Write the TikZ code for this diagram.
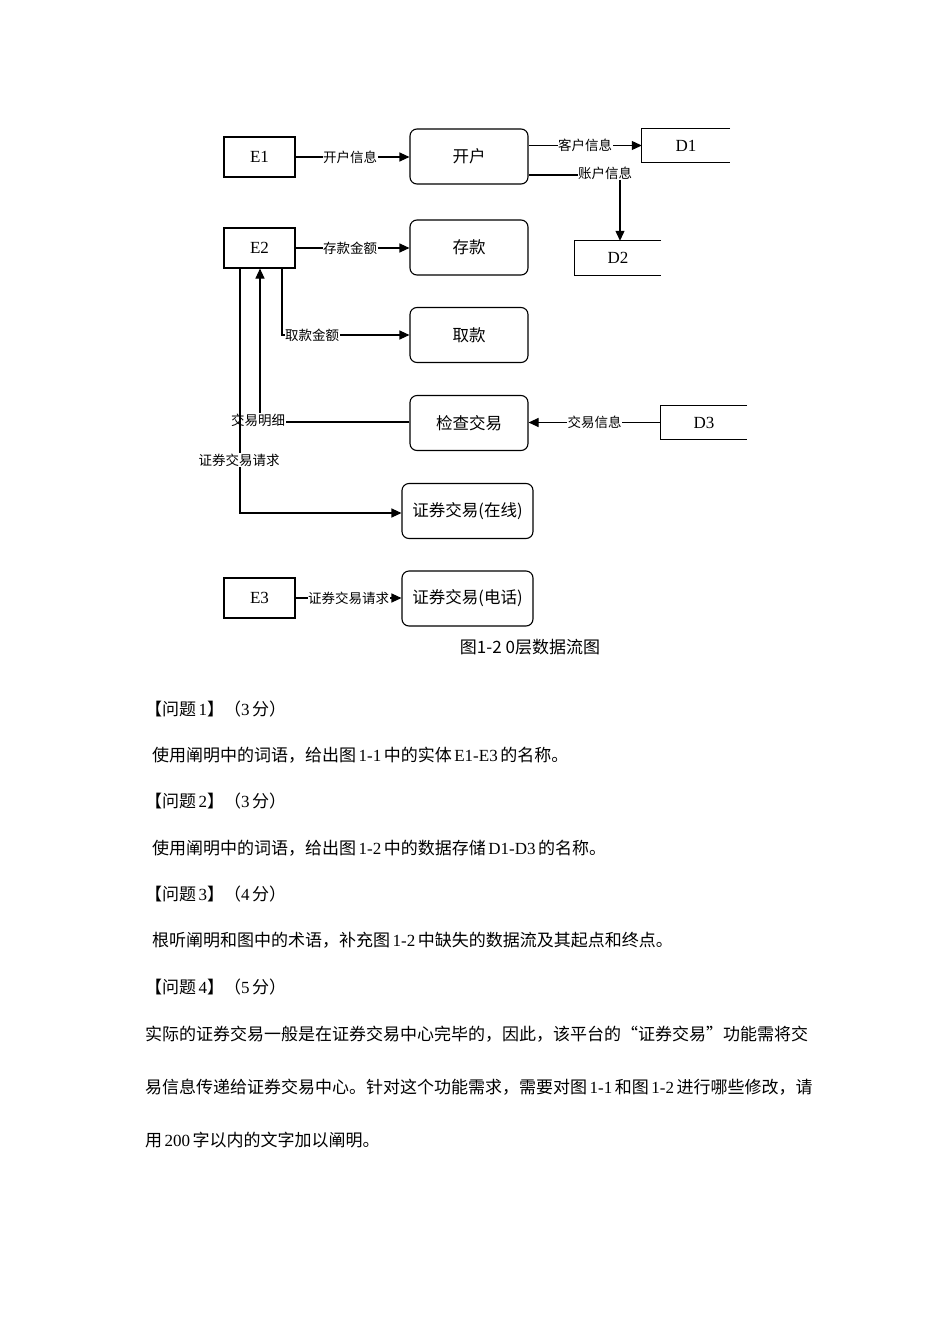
\documentclass[tikz,border=0pt]{standalone}
\usepackage{fontspec}
\setmainfont{Liberation Serif}
\newfontfamily\cjk{Noto Sans CJK SC}
\usetikzlibrary{arrows.meta}
\newcommand\tsp{\hspace{2.5pt}}
\begin{document}
\begin{tikzpicture}[x=1pt,y=-1pt,
  ent/.style={draw,line width=1.1pt,minimum width=71pt,minimum height=40pt,inner sep=0pt,font=\fontsize{17}{18}\selectfont},
  proc/.style={draw,line width=1.1pt,rounded corners=7pt,minimum width=118pt,minimum height=55pt,inner sep=0pt,font=\cjk\fontsize{16.5}{18}\selectfont},
  store/.style={minimum width=88pt,minimum height=33pt,inner sep=0pt,font=\fontsize{17}{18}\selectfont},
  flow/.style={line width=1.1pt,-{Triangle[length=10pt,width=9pt]}},
  plain/.style={line width=1.1pt},
  lab/.style={fill=white,inner sep=0.5pt,font=\cjk\fontsize{13.5}{15}\selectfont},
  body/.style={anchor=west,inner sep=0pt,font=\fontsize{17}{19}\selectfont}]
\useasboundingbox (0,0) rectangle (950,1344);
% entities
\node[ent] (E1) at (259.5,157) {E1};
\node[ent] (E2) at (259.5,248) {E2};
\node[ent] (E3) at (259.5,598) {E3};
% processes
\node[proc] (P1) at (469,156.5) {开户};
\node[proc] (P2) at (469,247.5) {存款};
\node[proc] (P3) at (469,335) {取款};
\node[proc] (P4) at (469,423) {检查交易};
\node[proc,minimum width=131pt] (P5) at (467.5,511) {证券交易(在线)};
\node[proc,minimum width=131pt] (P6) at (467.5,598.5) {证券交易(电话)};
% stores
\node[store] (D1) at (686,145.5) {D1};
\draw[plain] (D1.north east) -- (D1.north west) -- (D1.south west) -- (D1.south east);
\node[store,minimum width=86pt,minimum height=34pt] (D2) at (618,258) {D2};
\draw[plain] (D2.north east) -- (D2.north west) -- (D2.south west) -- (D2.south east);
\node[store,minimum width=86pt] (D3) at (704,422.5) {D3};
\draw[plain] (D3.north east) -- (D3.north west) -- (D3.south west) -- (D3.south east);
% flows
\draw[flow] (E1.east) -- node[lab,pos=0.48]{开户信息} (P1.west |- E1.east);
\draw[flow] (P1.east |- D1.west) -- node[lab,pos=0.5]{客户信息} (D1.west);
\coordinate (c1) at (620,175);
\draw[flow] (P1.east |- c1) -- (c1) -- (c1 |- D2.north);
\node[lab] at (605,173) {账户信息};
\draw[flow] (E2.east) -- node[lab,pos=0.48]{存款金额} (P2.west |- E2.east);
\coordinate (c2) at (282,335);
\draw[flow] (E2.south -| c2) -- (c2) -- (P3.west);
\node[lab] at (312,335) {取款金额};
\coordinate (c3) at (260,422);
\draw[flow] (P4.west |- c3) -- (c3) -- (c3 |- E2.south);
\node[lab] at (258,420) {交易明细};
\draw[flow] (D3.west) -- node[lab,pos=0.5]{交易信息} (P4.east |- D3.west);
\coordinate (c4) at (240,513);
\draw[flow] (E2.south -| c4) -- (c4) -- (P5.west |- c4);
\node[lab] at (239,460) {证券交易请求};
\draw[flow] (E3.east) -- node[lab,pos=0.5]{证券交易请求} (P6.west |- E3.east);
\node[inner sep=0pt,font=\cjk\fontsize{17}{18}\selectfont] (cap) at (530,647) {图1-2 0层数据流图};
% body text
\node[body] (q1) at (145,709) {{\cjk 【问题}\tsp1{\cjk 】（}3\tsp{\cjk 分）}};
\node[body] (t1) at (152,755) {{\cjk 使用阐明中的词语，给出图}\tsp1-1\tsp{\cjk 中的实体}\tsp E1-E3\tsp{\cjk 的名称。}};
\node[body] (q2) at (145,801) {{\cjk 【问题}\tsp2{\cjk 】（}3\tsp{\cjk 分）}};
\node[body] (t2) at (152,848) {{\cjk 使用阐明中的词语，给出图}\tsp1-2\tsp{\cjk 中的数据存储}\tsp D1-D3\tsp{\cjk 的名称。}};
\node[body] (q3) at (145,894) {{\cjk 【问题}\tsp3{\cjk 】（}4\tsp{\cjk 分）}};
\node[body] (t3) at (152,940) {{\cjk 根听阐明和图中的术语，补充图}\tsp1-2\tsp{\cjk 中缺失的数据流及其起点和终点。}};
\node[body] (q4) at (145,987) {{\cjk 【问题}\tsp4{\cjk 】（}5\tsp{\cjk 分）}};
\node[body] (t4) at (145,1034) {{\cjk 实际的证券交易一般是在证券交易中心完毕的，因此，该平台的“证券交易”功能需将交}};
\node[body] (t5) at (145,1087) {{\cjk 易信息传递给证券交易中心。针对这个功能需求，需要对图}\tsp1-1\tsp{\cjk 和图}\tsp1-2\tsp{\cjk 进行哪些修改，请}};
\node[body] (t6) at (145,1140) {{\cjk 用}\tsp200\tsp{\cjk 字以内的文字加以阐明。}};
\end{tikzpicture}
\end{document}
